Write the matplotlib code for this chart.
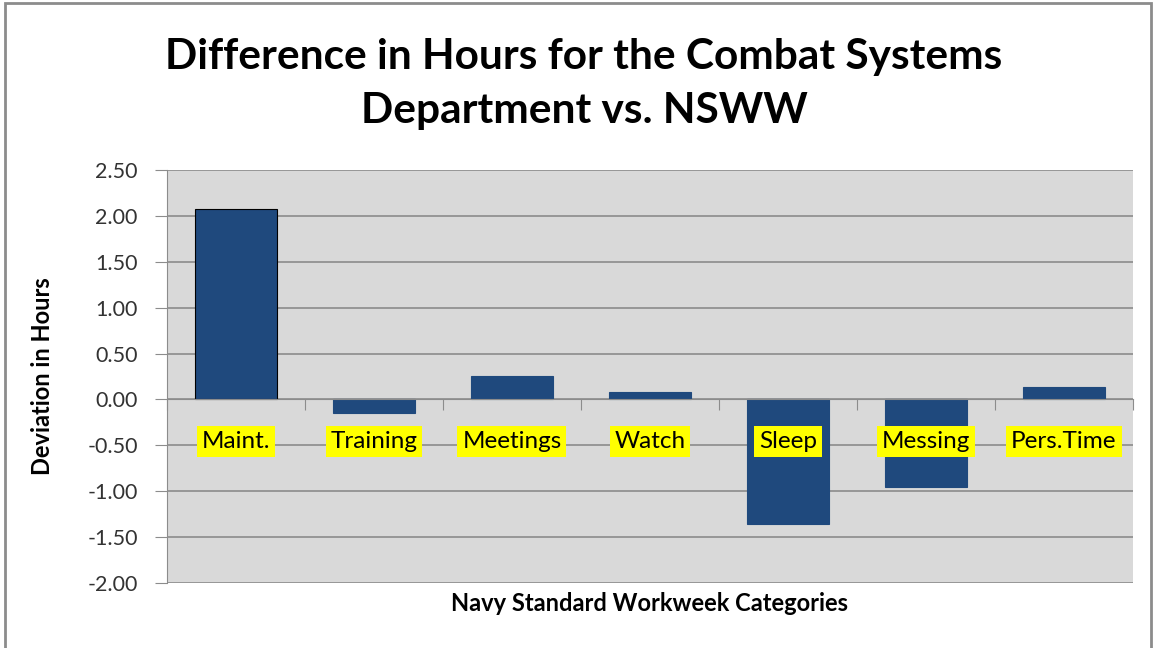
import matplotlib
matplotlib.use("Agg")
import matplotlib.pyplot as plt
from matplotlib.patches import Rectangle

categories = ["Maint.", "Training", "Meetings", "Watch", "Sleep", "Messing", "Pers.Time"]
deviation = [2.07, -0.15, 0.26, 0.08, -1.36, -0.95, 0.14]
yticks = [-2.0, -1.5, -1.0, -0.5, 0.0, 0.5, 1.0, 1.5, 2.0, 2.5]

fig = plt.figure(figsize=(11.54, 6.48), dpi=100)
ax = fig.add_axes([0.1447, 0.1003, 0.837, 0.6374])
ax.set_facecolor("#D9D9D9")

x = list(range(len(categories)))
edges = ["black"] + ["#1F497D"] * (len(categories) - 1)
ax.bar(x, deviation, width=0.59, color="#1F497D", edgecolor=edges, linewidth=0.8, zorder=3)

ax.set_xlim(-0.5, len(categories) - 0.5)
ax.set_ylim(-2.0, 2.5)
ax.set_yticks(yticks)
ax.set_yticklabels([f"{v:.2f}" for v in yticks], fontsize=15.5, family="Lato", color="#333333")
ax.yaxis.grid(True, color="#8C8C8C", linewidth=1.2, zorder=1)
ax.set_axisbelow(True)

ax.spines["top"].set_visible(False)
ax.spines["right"].set_visible(False)
ax.spines["left"].set_color("#8C8C8C")
ax.spines["bottom"].set_color("#8C8C8C")
ax.spines["bottom"].set_position(("data", 0))
ax.spines["bottom"].set_zorder(4)
ax.tick_params(axis="y", direction="out", length=9, color="#8C8C8C", pad=12)
ax.set_xticks([i - 0.5 for i in range(len(categories) + 1)])
ax.set_xticklabels([])
ax.tick_params(axis="x", direction="out", length=8, color="#8C8C8C")

for xi, lab in zip(x, categories):
    ax.text(xi, -0.46, lab, ha="center", va="center", fontsize=17.5, family="Lato",
            color="black", zorder=5,
            bbox=dict(boxstyle="square,pad=0.2", facecolor="yellow", edgecolor="none"))

ax.set_ylabel("Deviation in Hours", fontsize=17, fontweight="bold", family="Lato", labelpad=10)
ax.yaxis.set_label_coords(-0.1165, 0.5)
fig.text(0.563, 0.068, "Navy Standard Workweek Categories", ha="center", va="center",
         fontsize=17, fontweight="bold", family="Lato")

fig.text(0.506, 0.912, "Difference in Hours for the Combat Systems", ha="center", va="center",
         fontsize=30.5, fontweight="bold", family="Lato")
fig.text(0.506, 0.828, "Department vs. NSWW", ha="center", va="center",
         fontsize=30.5, fontweight="bold", family="Lato")

fig.patches.append(Rectangle((0.004, -0.01), 0.993, 1.005, transform=fig.transFigure,
                             fill=False, edgecolor="#8C8C8C", linewidth=2))

fig.savefig("out.png", dpi=100, facecolor="white")
